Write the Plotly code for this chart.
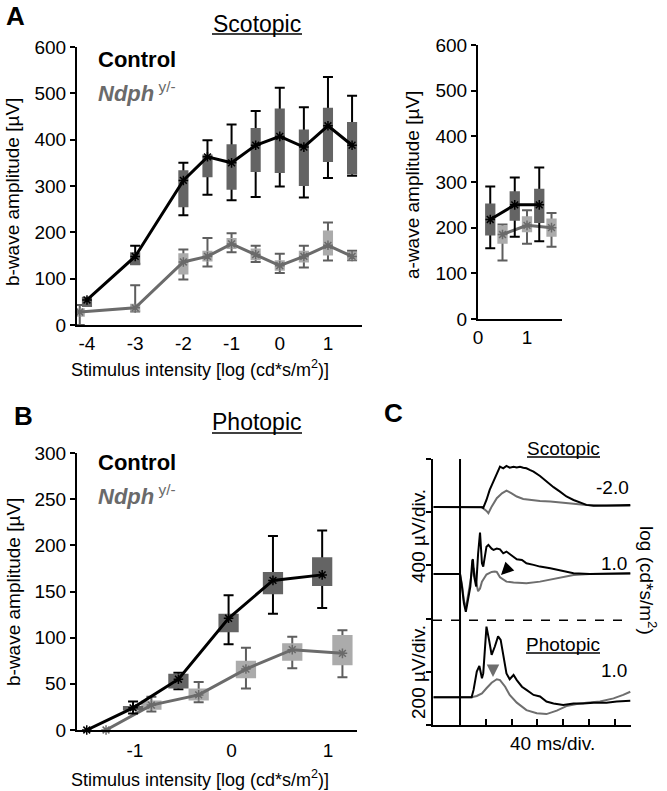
import plotly.graph_objects as go

W, H = 667, 791
FONT = "Arial, Liberation Sans, sans-serif"
CTRL_BOX = "#646464"
NDPH_BOX = "#ababab"
NDPH_LINE = "#6b6b6b"
NDPH_WHISK = "#5e5e5e"

# ---------------- Panel A : scotopic b-wave ----------------
a_x_ctrl = [-4, -3, -2, -1.5, -1, -0.5, 0, 0.5, 1, 1.5]
a_med_ctrl = [54, 148, 312, 363, 350, 388, 407, 384, 430, 388]
a_q1_ctrl = [39, 129, 254, 319, 292, 330, 328, 300, 352, 325]
a_q3_ctrl = [61, 157, 334, 368, 390, 425, 467, 422, 469, 438]
a_lo_ctrl = [45, 132, 237, 281, 269, 276, 299, 275, 317, 322]
a_hi_ctrl = [58, 171, 350, 399, 433, 462, 512, 470, 535, 495]

a_x_ndph = [-4.15, -3, -2, -1.5, -1, -0.5, 0, 0.5, 1, 1.5]
a_med_ndph = [28, 37, 136, 148, 175, 152, 128, 148, 172, 148]
a_q1_ndph = [18, 29, 109, 137, 164, 140, 117, 135, 150, 140]
a_q3_ndph = [36, 46, 155, 160, 188, 165, 140, 160, 204, 158]
a_lo_ndph = [0, 29, 98, 126, 157, 136, 112, 124, 139, 140]
a_hi_ndph = [43, 86, 163, 188, 198, 171, 154, 171, 221, 160]

# ---------------- Panel A : scotopic a-wave ----------------
aw_x_ctrl = [0.25, 0.75, 1.25]
aw_med_ctrl = [218, 250, 250]
aw_q1_ctrl = [183, 215, 210]
aw_q3_ctrl = [253, 280, 285]
aw_lo_ctrl = [155, 180, 170]
aw_hi_ctrl = [290, 310, 332]

aw_x_ndph = [0.5, 1.0, 1.5]
aw_med_ndph = [185, 205, 200]
aw_q1_ndph = [165, 190, 180]
aw_q3_ndph = [205, 225, 220]
aw_lo_ndph = [128, 165, 158]
aw_hi_ndph = [207, 238, 232]

# ---------------- Panel B : photopic b-wave ----------------
b_x_ctrl = [-1.5, -1.02, -0.55, -0.03, 0.43, 0.94]
b_med_ctrl = [0, 24, 55, 121, 162, 168]
b_q1_ctrl = [0, 21, 45, 106, 147, 156]
b_q3_ctrl = [0, 26, 61, 126, 171, 187]
b_lo_ctrl = [0, 18, 44, 93, 126, 132]
b_hi_ctrl = [0, 31, 62, 146, 210, 216]

b_x_ndph = [-1.3, -0.83, -0.34, 0.15, 0.63, 1.15]
b_med_ndph = [0, 27, 38, 66, 87, 83]
b_q1_ndph = [0, 22, 32, 56, 75, 70]
b_q3_ndph = [0, 32, 45, 75, 94, 103]
b_lo_ndph = [0, 20, 30, 45, 67, 57]
b_hi_ndph = [0, 36, 52, 89, 101, 108]

# ---------------- Panel C : ERG traces (t in ms, amplitude in uV) ----------------
sc2_t_ctrl = [-41, 0, 30, 34, 36, 41, 46, 52, 57, 62, 67, 72, 77, 83, 88, 93, 98, 103, 108, 114, 124, 134, 145, 155, 165, 176, 186, 196, 207, 227, 248, 264]
sc2_v_ctrl = [0, 0, 0, -3, -8, 52, 128, 190, 240, 302, 290, 308, 295, 302, 296, 302, 294, 290, 278, 265, 232, 190, 148, 115, 78, 52, 32, 15, 8, 8, 12, 15]
sc2_t_ndph = [-41, 0, 33, 41, 44, 49, 57, 65, 72, 80, 88, 98, 108, 124, 140, 155, 176, 196, 227, 264]
sc2_v_ndph = [0, 0, 0, -30, -48, 2, 65, 102, 122, 102, 78, 60, 52, 45, 40, 32, 22, 15, 8, 8]

sc1_t_ctrl = [-41, 0, 3, 6, 9, 13, 16, 19, 20, 22, 25, 28, 31, 34, 36, 41, 44, 49, 52, 57, 62, 67, 72, 77, 83, 88, 96, 103, 114, 124, 140, 155, 176, 201, 227, 264]
sc1_v_ctrl = [0, 0, -95, -220, -285, -170, -95, 100, 110, -20, -95, 150, 310, 80, 55, 205, 218, 190, 180, 190, 185, 155, 168, 150, 130, 110, 105, 80, 68, 55, 42, 25, 5, 0, 0, 5]
sc1_t_ndph = [-41, 0, 3, 6, 9, 13, 16, 19, 21, 24, 28, 31, 34, 41, 49, 54, 57, 62, 67, 72, 83, 103, 124, 150, 176, 201, 264]
sc1_v_ndph = [0, 0, -80, -200, -260, -160, -60, 30, 45, -40, -130, -110, -58, -5, 15, 18, 15, -25, -45, -58, -65, -70, -58, -32, -8, 0, 2]

ph_t_ctrl = [-41, 0, 18, 21, 26, 30, 34, 36, 39, 41, 45, 49, 54, 59, 63, 67, 72, 77, 83, 88, 96, 103, 114, 124, 134, 145, 160, 176, 191, 207, 227, 243, 264]
ph_v_ctrl = [0, 0, 0, 28, 97, 118, 72, 90, 216, 266, 216, 160, 191, 229, 216, 153, 90, 68, 84, 65, 40, 28, 9, 3, -16, -23, -29, -23, -23, -20, -20, -16, -13]
ph_t_ndph = [-41, 0, 18, 26, 34, 41, 49, 57, 62, 70, 77, 88, 103, 119, 134, 150, 165, 181, 196, 217, 238, 253, 264]
ph_v_ndph = [0, 0, 0, 5, 15, 34, 55, 68, 65, 40, 9, -20, -48, -60, -63, -50, -33, -25, -20, -16, -4, 9, 21]

time_ticks = [0, 40, 80, 120, 160, 200, 240]
div_ticks = [0, 1, 2, 3, 4, 5]


def px(x):
    return x / W


def py(y):
    return 1 - y / H


fig = go.Figure()


def add_group(xs, med, q1, q3, lo, hi, box_w, box_col, line_col, whisk_col, mk_col, xa, ya):
    ex, ey, ep, em = [], [], [], []
    for x, m, l, h in zip(xs, med, lo, hi):
        if h - l > 0:
            ex.append(x); ey.append(m); ep.append(h - m); em.append(m - l)
    fig.add_trace(go.Scatter(
        x=ex, y=ey, mode="markers", marker=dict(size=1, opacity=0),
        error_y=dict(type="data", array=ep, arrayminus=em, color=whisk_col, thickness=2, width=5),
        xaxis=xa, yaxis=ya, showlegend=False, hoverinfo="skip", cliponaxis=False))
    bx, by = [], []
    for x, a, b in zip(xs, q1, q3):
        if b - a > 0:
            hw = box_w / 2
            bx += [x - hw, x + hw, x + hw, x - hw, x - hw, None]
            by += [a, a, b, b, a, None]
    fig.add_trace(go.Scatter(
        x=bx, y=by, mode="lines", fill="toself", fillcolor=box_col,
        line=dict(width=0, color=box_col), xaxis=xa, yaxis=ya,
        showlegend=False, hoverinfo="skip", cliponaxis=False))
    fig.add_trace(go.Scatter(
        x=xs, y=med, mode="lines+markers",
        line=dict(color=line_col, width=3),
        marker=dict(symbol="asterisk-open", size=8, color=mk_col, line=dict(width=1.5, color=mk_col)),
        xaxis=xa, yaxis=ya, showlegend=False, cliponaxis=False))


add_group(a_x_ndph, a_med_ndph, a_q1_ndph, a_q3_ndph, a_lo_ndph, a_hi_ndph, 0.21,
          NDPH_BOX, NDPH_LINE, NDPH_WHISK, "#6a6a6a", "x", "y")
add_group(a_x_ctrl, a_med_ctrl, a_q1_ctrl, a_q3_ctrl, a_lo_ctrl, a_hi_ctrl, 0.21,
          CTRL_BOX, "black", "black", "black", "x", "y")
add_group(aw_x_ndph, aw_med_ndph, aw_q1_ndph, aw_q3_ndph, aw_lo_ndph, aw_hi_ndph, 0.21,
          NDPH_BOX, NDPH_LINE, NDPH_WHISK, "#6a6a6a", "x2", "y2")
add_group(aw_x_ctrl, aw_med_ctrl, aw_q1_ctrl, aw_q3_ctrl, aw_lo_ctrl, aw_hi_ctrl, 0.21,
          CTRL_BOX, "black", "black", "black", "x2", "y2")
add_group(b_x_ndph, b_med_ndph, b_q1_ndph, b_q3_ndph, b_lo_ndph, b_hi_ndph, 0.21,
          NDPH_BOX, NDPH_LINE, NDPH_WHISK, "#6a6a6a", "x3", "y3")
add_group(b_x_ctrl, b_med_ctrl, b_q1_ctrl, b_q3_ctrl, b_lo_ctrl, b_hi_ctrl, 0.21,
          CTRL_BOX, "black", "black", "black", "x3", "y3")

SC_SCALE = 400.0
PH_SCALE = 200.0
BASE_SC2, BASE_SC1, BASE_PH = 4.10, 2.84, 0.52
for t, v, base, sc, col in [
    (sc2_t_ndph, sc2_v_ndph, BASE_SC2, SC_SCALE, "#6e6e6e"),
    (sc2_t_ctrl, sc2_v_ctrl, BASE_SC2, SC_SCALE, "black"),
    (sc1_t_ndph, sc1_v_ndph, BASE_SC1, SC_SCALE, "#6e6e6e"),
    (sc1_t_ctrl, sc1_v_ctrl, BASE_SC1, SC_SCALE, "black"),
    (ph_t_ndph, ph_v_ndph, BASE_PH, PH_SCALE, "#6e6e6e"),
    (ph_t_ctrl, ph_v_ctrl, BASE_PH, PH_SCALE, "black"),
]:
    fig.add_trace(go.Scatter(x=t, y=[base + vv / sc for vv in v], mode="lines",
                             line=dict(color=col, width=2), xaxis="x4", yaxis="y4",
                             showlegend=False, cliponaxis=False))

ax_common = dict(showline=True, linewidth=2, linecolor="black", showgrid=False,
                 zeroline=False, tickfont=dict(size=19, color="black", family=FONT),
                 tickcolor="black", tickwidth=2, fixedrange=True, automargin=False)

fig.update_layout(
    width=W, height=H, margin=dict(l=0, r=0, t=0, b=0, pad=0, autoexpand=False),
    paper_bgcolor="white", plot_bgcolor="rgba(0,0,0,0)",
    font=dict(family=FONT, color="black"),
    showlegend=False,
    xaxis=dict(domain=[px(77), px(362)], range=[-4.207, 1.706], anchor="y",
               tickvals=[-4, -3, -2, -1, 0, 1], ticktext=["-4", "-3", "-2", "-1", "0", "1"],
               ticks="", ticklabelstandoff=0, **ax_common),
    yaxis=dict(domain=[py(325), py(47)], range=[0, 600], anchor="x",
               tickvals=[0, 100, 200, 300, 400, 500, 600], ticks="outside", ticklen=5, **ax_common),
    xaxis2=dict(domain=[px(478), px(562)], range=[0, 1.714], anchor="y2",
                tickvals=[0, 1], ticktext=["0", "1"], ticks="", ticklabelstandoff=0, **ax_common),
    yaxis2=dict(domain=[py(319), py(45)], range=[0, 600], anchor="x2",
                tickvals=[0, 100, 200, 300, 400, 500, 600], ticks="outside", ticklen=5, **ax_common),
    xaxis3=dict(domain=[px(77), px(357)], range=[-1.601, 1.301], anchor="y3",
                tickvals=[-1, 0, 1], ticktext=["-1", "0", "1"], ticks="", ticklabelstandoff=2, **ax_common),
    yaxis3=dict(domain=[py(730), py(453)], range=[0, 300], anchor="x3",
                tickvals=[0, 50, 100, 150, 200, 250, 300], ticks="outside", ticklen=5, **ax_common),
    xaxis4=dict(domain=[px(433), px(631)], range=[-41.9, 265.1], anchor="y4",
                tickvals=time_ticks, ticks="inside", ticklen=6, showticklabels=False, **ax_common),
    yaxis4=dict(domain=[py(725), py(459)], range=[0, 5], anchor="x4",
                tickvals=div_ticks, ticks="outside", ticklen=5, showticklabels=False, **ax_common),
)

shapes = [
    dict(type="line", xref="x4", yref="y4", x0=0, x1=0, y0=0, y1=5, line=dict(color="black", width=2)),
    dict(type="line", xref="x4", yref="y4", x0=-41.9, x1=256, y0=1.97, y1=1.97,
         line=dict(color="black", width=1.5, dash="dash")),
]
for x0, x1, y in [(212, 302, 34), (212, 302, 433), (527, 600, 457), (526, 600, 653)]:
    shapes.append(dict(type="line", xref="paper", yref="paper", x0=px(x0), x1=px(x1), y0=py(y), y1=py(y),
                       line=dict(color="black", width=1.3)))
fig.update_layout(shapes=shapes)

anns = []


def ann(text, x, y, size, color="black", xanchor="center", angle=0):
    anns.append(dict(text=text, x=px(x), y=py(y), xref="paper", yref="paper", showarrow=False,
                     xanchor=xanchor, yanchor="middle", textangle=angle,
                     font=dict(size=size, color=color, family=FONT)))


ann("<b>A</b>", 15, 16, 26)
ann("<b>B</b>", 24, 416, 26)
ann("<b>C</b>", 393, 413, 26)
ann("Scotopic", 257, 24, 23)
ann("Photopic", 257, 422, 23)
ann("<b>Control</b>", 96, 60, 22, xanchor="left")
ann("<b><i>Ndph</i></b><sup> y/-</sup>", 96, 92, 22, color="#6a6a6a", xanchor="left")
ann("<b>Control</b>", 96, 463, 22, xanchor="left")
ann("<b><i>Ndph</i></b><sup> y/-</sup>", 96, 495, 22, color="#6a6a6a", xanchor="left")
ann("b-wave amplitude [µV]", 13, 192, 19, angle=-90)
ann("a-wave amplitude [µV]", 413, 185, 19, angle=-90)
ann("b-wave amplitude [µV]", 13, 592, 19, angle=-90)
ann("Stimulus intensity [log (cd*s/m<sup>2</sup>)]", 200, 368, 18)
ann("Stimulus intensity [log (cd*s/m<sup>2</sup>)]", 200, 778, 18)
ann("Scotopic", 563, 448, 19)
ann("Photopic", 563, 644, 19)
ann("-2.0", 612, 487, 19)
ann("1.0", 614, 563, 19)
ann("1.0", 614, 670, 19)
ann("40 ms/div.", 552, 743, 19)
ann("400 µV/div.", 418, 536, 19, angle=-90)
ann("200 µV/div.", 418, 672, 19, angle=-90)
ann("log (cd*s/m<sup>2</sup>)", 648, 580, 19, angle=90)

anns.append(dict(x=px(501), y=py(575), ax=9, ay=-9, xref="paper", yref="paper", showarrow=True,
                 arrowhead=2, arrowsize=1, arrowwidth=2.5, arrowcolor="black", text=""))
anns.append(dict(x=px(493), y=py(677), ax=0, ay=-11, xref="paper", yref="paper", showarrow=True,
                 arrowhead=2, arrowsize=1, arrowwidth=2.5, arrowcolor="#6e6e6e", text=""))
fig.update_layout(annotations=anns)

fig.write_html("out.html", config={"displayModeBar": False},
               post_script="document.body.style.margin='0';document.body.style.padding='0';")
